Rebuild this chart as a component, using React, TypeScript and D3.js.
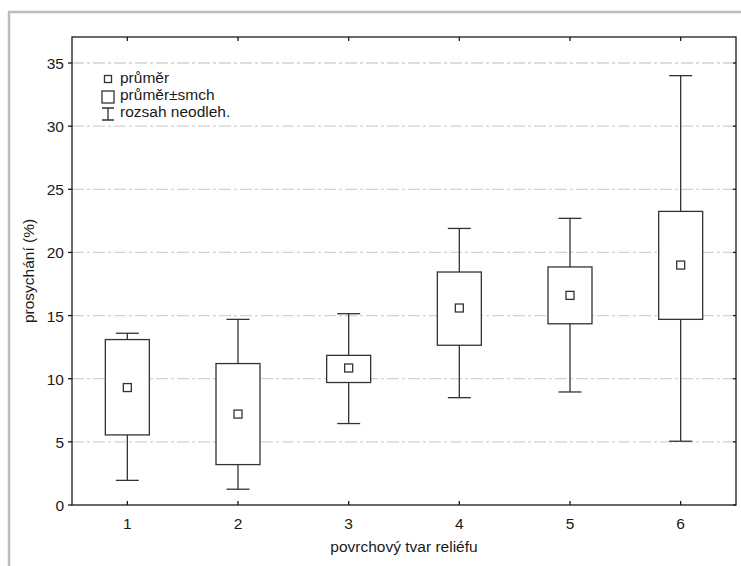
import * as React from 'react';
import * as d3 from 'd3';

const categories = ['1', '2', '3', '4', '5', '6'];
const means = [9.3, 7.2, 10.85, 15.6, 16.6, 19.0];
const boxLow = [5.55, 3.2, 9.7, 12.65, 14.35, 14.7];
const boxHigh = [13.1, 11.2, 11.85, 18.45, 18.85, 23.25];
const whiskerLow = [1.95, 1.25, 6.45, 8.5, 8.95, 5.05];
const whiskerHigh = [13.6, 14.7, 15.15, 21.9, 22.7, 34.0];
const yTicks = [0, 5, 10, 15, 20, 25, 30, 35];
const legendLabels = ['průměr', 'průměr±smch', 'rozsah neodleh.'];

export default function App() {
    const ref = React.useRef(null);
    const width = 741;
    const height = 566;
    const left = 72, right = 736, top = 37, bottom = 505;
    const font = '"Liberation Sans", Arial, sans-serif';

    React.useEffect(() => {
        const root = d3.select(ref.current);
        root.selectAll('*').remove();

        const svg = root.append('svg')
            .attr('width', width)
            .attr('height', height)
            .style('position', 'absolute')
            .style('left', 0)
            .style('top', 0)
            .style('background', '#fff');

        const x = d3.scaleLinear().domain([0.5, 6.5]).range([left, right]);
        const y = d3.scaleLinear().domain([0, 37.06]).range([bottom, top]);

        // outer grey frame
        svg.append('path')
            .attr('d', `M9,${height} V12 H${width}`)
            .attr('fill', 'none')
            .attr('stroke', '#bdbdbd')
            .attr('stroke-width', 2.5);

        // grid
        svg.selectAll('.grid')
            .data(yTicks.filter(d => d > 0))
            .enter().append('line')
            .attr('x1', left).attr('x2', right)
            .attr('y1', d => y(d)).attr('y2', d => y(d))
            .attr('stroke', '#d2d2d2')
            .attr('stroke-width', 1.3)
            .attr('stroke-dasharray', '12,3,3,3');

        const data = categories.map((c, i) => ({
            c, i,
            mean: means[i], lo: boxLow[i], hi: boxHigh[i], wl: whiskerLow[i], wh: whiskerHigh[i]
        }));
        const boxW = 44, capW = 23, meanS = 8;
        const col = '#333';

        const g = svg.selectAll('.box').data(data).enter().append('g');
        // whisker stems
        g.append('line')
            .attr('x1', d => x(d.i + 1)).attr('x2', d => x(d.i + 1))
            .attr('y1', d => y(d.wh)).attr('y2', d => y(d.hi))
            .attr('stroke', col).attr('stroke-width', 1.3);
        g.append('line')
            .attr('x1', d => x(d.i + 1)).attr('x2', d => x(d.i + 1))
            .attr('y1', d => y(d.lo)).attr('y2', d => y(d.wl))
            .attr('stroke', col).attr('stroke-width', 1.3);
        // caps
        g.append('line')
            .attr('x1', d => x(d.i + 1) - capW / 2).attr('x2', d => x(d.i + 1) + capW / 2)
            .attr('y1', d => y(d.wh)).attr('y2', d => y(d.wh))
            .attr('stroke', col).attr('stroke-width', 1.3);
        g.append('line')
            .attr('x1', d => x(d.i + 1) - capW / 2).attr('x2', d => x(d.i + 1) + capW / 2)
            .attr('y1', d => y(d.wl)).attr('y2', d => y(d.wl))
            .attr('stroke', col).attr('stroke-width', 1.3);
        // box
        g.append('rect')
            .attr('x', d => x(d.i + 1) - boxW / 2)
            .attr('y', d => y(d.hi))
            .attr('width', boxW)
            .attr('height', d => y(d.lo) - y(d.hi))
            .attr('fill', '#fff')
            .attr('stroke', col).attr('stroke-width', 1.3);
        // mean
        g.append('rect')
            .attr('x', d => x(d.i + 1) - meanS / 2)
            .attr('y', d => y(d.mean) - meanS / 2)
            .attr('width', meanS).attr('height', meanS)
            .attr('fill', '#fff')
            .attr('stroke', col).attr('stroke-width', 1.3);

        // plot frame
        svg.append('rect')
            .attr('x', left).attr('y', top)
            .attr('width', right - left).attr('height', bottom - top)
            .attr('fill', 'none')
            .attr('stroke', '#1a1a1a')
            .attr('stroke-width', 1.3);

        // y ticks left (outward) and right (inward)
        svg.selectAll('.yt')
            .data(yTicks)
            .enter().append('line')
            .attr('x1', left - 4).attr('x2', left)
            .attr('y1', d => y(d)).attr('y2', d => y(d))
            .attr('stroke', '#1a1a1a').attr('stroke-width', 1.3);
        svg.selectAll('.yt2')
            .data(yTicks)
            .enter().append('line')
            .attr('x1', right - 3).attr('x2', right)
            .attr('y1', d => y(d)).attr('y2', d => y(d))
            .attr('stroke', '#1a1a1a').attr('stroke-width', 1.3);
        svg.selectAll('.ylab')
            .data(yTicks)
            .enter().append('text')
            .attr('x', left - 8)
            .attr('y', d => y(d) + 6)
            .attr('text-anchor', 'end')
            .style('font-family', font)
            .style('font-size', '15.5px')
            .attr('fill', '#1a1a1a')
            .text(d => d);

        // x ticks bottom and top (inward)
        svg.selectAll('.xt')
            .data(categories)
            .enter().append('line')
            .attr('x1', (d, i) => x(i + 1)).attr('x2', (d, i) => x(i + 1))
            .attr('y1', bottom - 4).attr('y2', bottom)
            .attr('stroke', '#1a1a1a').attr('stroke-width', 1.3);
        svg.selectAll('.xt2')
            .data(categories)
            .enter().append('line')
            .attr('x1', (d, i) => x(i + 1)).attr('x2', (d, i) => x(i + 1))
            .attr('y1', top).attr('y2', top + 4)
            .attr('stroke', '#1a1a1a').attr('stroke-width', 1.3);
        svg.selectAll('.xlab')
            .data(categories)
            .enter().append('text')
            .attr('x', (d, i) => x(i + 1))
            .attr('y', 528.5)
            .attr('text-anchor', 'middle')
            .style('font-family', font)
            .style('font-size', '15.5px')
            .attr('fill', '#1a1a1a')
            .text(d => d);

        // axis titles
        svg.append('text')
            .attr('x', (left + right) / 2)
            .attr('y', 552)
            .attr('text-anchor', 'middle')
            .style('font-family', font)
            .style('font-size', '15.5px')
            .attr('fill', '#1a1a1a')
            .text('povrchový tvar reliéfu');
        svg.append('text')
            .attr('transform', `translate(33.5,${(top + bottom) / 2}) rotate(-90)`)
            .attr('text-anchor', 'middle')
            .style('font-family', font)
            .style('font-size', '15.5px')
            .attr('fill', '#1a1a1a')
            .text('prosychání (%)');

        // legend
        const lg = svg.append('g').attr('transform', 'translate(108,0)');
        lg.append('rect')
            .attr('x', -3.5).attr('y', 75.5).attr('width', 7).attr('height', 7)
            .attr('fill', '#fff').attr('stroke', col).attr('stroke-width', 1.3);
        lg.append('rect')
            .attr('x', -6).attr('y', 91).attr('width', 12).attr('height', 12)
            .attr('fill', '#fff').attr('stroke', col).attr('stroke-width', 1.3);
        lg.append('path')
            .attr('d', 'M-6,108 H6 M0,108 V120 M-6,120 H6')
            .attr('fill', 'none').attr('stroke', col).attr('stroke-width', 1.3);
        lg.selectAll('.lt')
            .data(legendLabels)
            .enter().append('text')
            .attr('x', 12)
            .attr('y', (d, i) => 83 + i * 17.2)
            .style('font-family', font)
            .style('font-size', '15.5px')
            .attr('fill', '#1a1a1a')
            .text(d => d);
    }, []);

    return (
        <div ref={ref}>
        </div>
    );
}
